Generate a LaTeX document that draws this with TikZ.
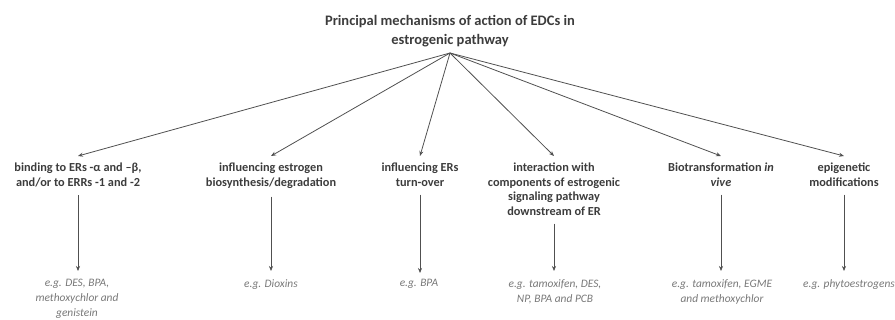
\documentclass[tikz,border=0pt]{standalone}
\usepackage{fontspec}
\setmainfont{Carlito}
\usetikzlibrary{arrows.meta}
\definecolor{exgray}{RGB}{120,120,120}
\definecolor{txtgray}{RGB}{60,60,60}
\definecolor{linegray}{RGB}{80,80,80}
\tikzset{
  head/.style={font=\bfseries\fontsize{14.5}{19.5}\selectfont, text=txtgray, align=center, inner sep=0pt},
  mech/.style={font=\bfseries\fontsize{12.3}{14.5}\selectfont, text=txtgray, align=center, inner sep=0pt, anchor=north},
  example/.style={font=\itshape\fontsize{11.4}{15}\selectfont, text=exgray, align=center, inner sep=0pt, anchor=north},
  conn/.style={draw=linegray, line width=0.8pt, -{Stealth[length=5pt,width=4pt]}},
  vconn/.style={draw=linegray, line width=0.6pt, -{Stealth[length=5pt,width=4pt]}}
}
\begin{document}
\begin{tikzpicture}[x=1pt,y=-1pt]
\useasboundingbox (0,0) rectangle (895,320);
\node[head] (title) at (450,31) {Principal mechanisms of action of EDCs in\\estrogenic pathway};
\coordinate (fan) at (450,53);
% mechanism nodes
\node[mech] (m1) at (78,163) {binding to ERs -α and –β,\\and/or to ERRs -1 and -2};
\node[mech] (m2) at (271,163) {influencing estrogen\\biosynthesis/degradation};
\node[mech] (m3) at (420,163) {influencing ERs\\turn-over};
\node[mech] (m4) at (554,163) {interaction with\\components of estrogenic\\signaling pathway\\downstream of ER};
\node[mech] (m5) at (721,163) {Biotransformation \textit{in}\\\textit{vive}};
\node[mech] (m6) at (844,163) {epigenetic\\modifications};
% example nodes
\node[example] (e1) at (77,279) {e.g. DES, BPA,\\methoxychlor and\\genistein};
\node[example] (e2) at (271,279) {e.g. Dioxins};
\node[example] (e3) at (419,279) {e.g. BPA};
\node[example] (e4) at (555,279) {e.g. tamoxifen, DES,\\NP, BPA and PCB};
\node[example] (e5) at (722,279) {e.g. tamoxifen, EGME\\and methoxychlor};
\node[example] (e6) at (849,279) {e.g. phytoestrogens};
% fan connectors
\foreach \m in {m1,m2,m3,m4,m5,m6}
  \draw[conn] (fan) -- ([yshift=7pt]\m.north);
% vertical connectors
\draw[vconn] ([yshift=-8pt]m1.south) -- ([yshift=8pt]e1.north -| m1.south);
\draw[vconn] ([yshift=-8pt]m2.south) -- ([yshift=8pt]e2.north -| m2.south);
\draw[vconn] ([yshift=-8pt]m3.south) -- ([yshift=6pt]e3.north -| m3.south);
\draw[vconn] ([yshift=-8pt]m4.south) -- ([yshift=8pt]e4.north -| m4.south);
\draw[vconn] ([yshift=-8pt]m5.south) -- ([yshift=8pt]e5.north -| m5.south);
\draw[vconn] ([yshift=-8pt]m6.south) -- ([yshift=8pt]e6.north -| m6.south);
\end{tikzpicture}
\end{document}
